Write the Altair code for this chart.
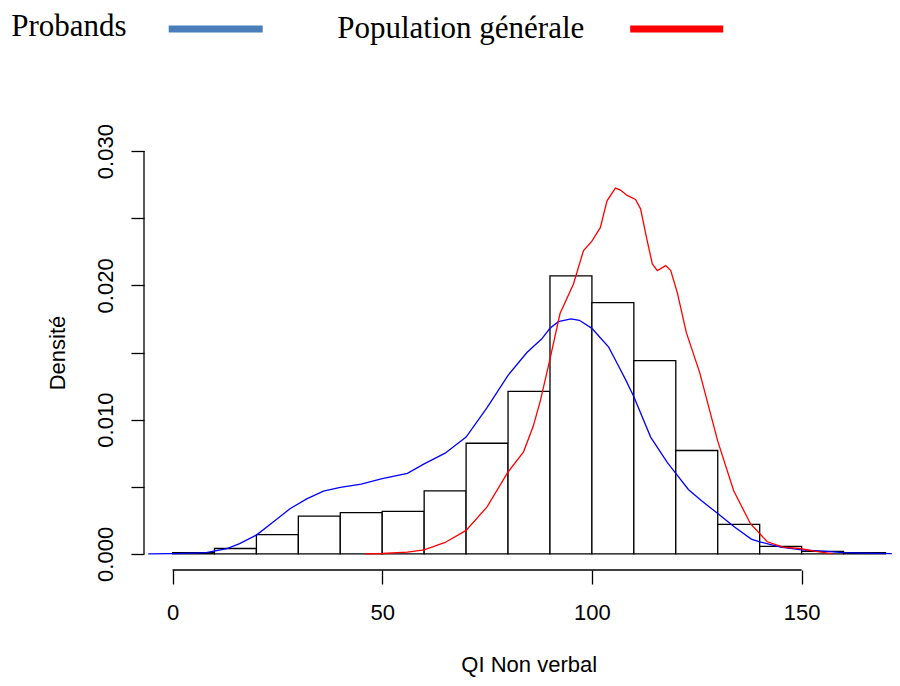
import altair as alt
import pandas as pd

# ---- data ----
bin_starts = [0, 10, 20, 30, 40, 50, 60, 70, 80, 90, 100, 110, 120, 130, 140, 150, 160]
bin_width = 10
bin_density = [0.0001, 0.0004, 0.00143, 0.00281, 0.00307, 0.00316, 0.0047, 0.00824,
               0.01211, 0.0207, 0.01871, 0.0144, 0.0077, 0.0022, 0.00056, 0.00018, 0.0001]

probands_x = [-5.8, 0, 5, 8, 13, 16, 20, 24, 28, 32, 36, 40, 45, 50, 56, 60, 65, 70, 75,
              80, 84.5, 88, 90, 92, 95, 97, 100, 102, 104, 106, 108, 110, 114, 118, 120,
              123, 126, 130, 134, 138, 140, 145, 150, 155, 160, 165, 171.5]
probands_y = [0.0, 0.00002, 0.00006, 0.0001, 0.0004, 0.00076, 0.0014, 0.00237, 0.00336,
              0.0041, 0.00467, 0.00495, 0.0052, 0.0056, 0.006, 0.0067, 0.0075, 0.0087,
              0.0109, 0.0133, 0.015, 0.016, 0.0168, 0.0173, 0.0175, 0.0174, 0.0168, 0.0161,
              0.0154, 0.0142, 0.013, 0.0117, 0.0087, 0.0068, 0.006, 0.0048, 0.004, 0.003,
              0.002, 0.0011, 0.0009, 0.0005, 0.0003, 0.0002, 0.0001, 0.00005, 0.00002]

pop_x = [46, 50, 56, 60, 65, 70, 75, 80, 83.7, 86, 87.7, 90, 92.4, 95.6, 98, 100, 102,
         103.6, 105.6, 106.8, 108.4, 110.4, 111.6, 113.2, 114.4, 115.6, 117.6, 118.8,
         120.4, 122.5, 125.7, 130, 133.8, 137.8, 141.8, 145.6, 149.6, 153, 157.5]
pop_y = [0.0, 0.00003, 0.00013, 0.0003, 0.00085, 0.00175, 0.0035, 0.0061, 0.0076, 0.0095,
         0.0114, 0.0145, 0.0179, 0.0201, 0.0226, 0.0233, 0.0243, 0.0263, 0.02725, 0.0271,
         0.0267, 0.0264, 0.0257, 0.0233, 0.0216, 0.0211, 0.02147, 0.0211, 0.0194, 0.0165,
         0.0135, 0.0084, 0.0047, 0.00225, 0.0009, 0.0005, 0.0004, 0.0002, 0.0]

x_ticks = [0, 50, 100, 150]
y_ticks = [0.0, 0.005, 0.010, 0.015, 0.020, 0.025, 0.030]
legend_labels = ["Probands", "Population générale"]
legend_colors = ["#4A7EBB", "#FF0000"]
x_title = "QI Non verbal"
y_title = "Densité"

# ---- tables ----
hist_df = pd.DataFrame({
    "start": bin_starts,
    "end": [s + bin_width for s in bin_starts],
    "density": bin_density,
    "base": [0.0] * len(bin_starts),
})
prob_df = pd.DataFrame({"x": probands_x, "y": probands_y})
pop_df = pd.DataFrame({"x": pop_x, "y": pop_y})

x_scale = alt.Scale(domain=[-6.8, 171.55], nice=False, zero=False)
y_scale = alt.Scale(domain=[-0.0012, 0.0312], nice=False, zero=False)

FONT = "Liberation Sans"
x_axis = alt.Axis(values=x_ticks, domain=False, grid=False, tickSize=14, tickWidth=1.3,
                  tickColor="black", labelFont=FONT, labelFontSize=22, labelColor="black",
                  labelPadding=18, labelFlush=False, labelOverlap=False,
                  title=x_title, titleFont=FONT, titleFontSize=22, titleFontWeight="normal",
                  titleColor="black", titleX=384.7, titleY=101.5, titleAlign="center",
                  titleBaseline="alphabetic")
y_axis = alt.Axis(values=y_ticks, domain=False, grid=False, tickSize=13, tickWidth=1.3,
                  tickColor="black", labelFont=FONT, labelFontSize=22, labelColor="black",
                  labelAngle=270, labelAlign="center", labelBaseline="alphabetic",
                  labelPadding=19, labelFlush=False, labelOverlap=False,
                  labelExpr="round(datum.value*1000) % 10 == 0 ? format(datum.value, '.3f') : ''",
                  title=y_title, titleFont=FONT, titleFontSize=22, titleFontWeight="normal",
                  titleColor="black", titleAngle=270, titleX=-80, titleY=217.5,
                  titleAlign="center", titleBaseline="alphabetic")

bars = alt.Chart(hist_df).mark_rect(fill="white", stroke="black", strokeWidth=1.3).encode(
    x=alt.X("start:Q", scale=x_scale, axis=x_axis),
    x2=alt.X2("end"),
    y=alt.Y("density:Q", scale=y_scale, axis=y_axis),
    y2=alt.Y2("base"),
)

prob_line = alt.Chart(prob_df).mark_line(color="#0000FF", strokeWidth=1.3).encode(
    x=alt.X("x:Q", scale=x_scale, axis=x_axis),
    y=alt.Y("y:Q", scale=y_scale, axis=y_axis),
)
pop_line = alt.Chart(pop_df).mark_line(color="#FF0000", strokeWidth=1.3).encode(
    x=alt.X("x:Q", scale=x_scale, axis=x_axis),
    y=alt.Y("y:Q", scale=y_scale, axis=y_axis),
)

# axis lines spanning first to last tick (R style)
xline_df = pd.DataFrame({"a": [x_ticks[0]], "b": [x_ticks[-1]], "y": [-0.0012]})
x_line = alt.Chart(xline_df).mark_rule(color="black", strokeWidth=1.3).encode(
    x=alt.X("a:Q", scale=x_scale, axis=x_axis),
    x2=alt.X2("b"),
    y=alt.Y("y:Q", scale=y_scale, axis=y_axis),
)
yline_df = pd.DataFrame({"x": [-6.8], "a": [y_ticks[0]], "b": [y_ticks[-1]]})
y_line = alt.Chart(yline_df).mark_rule(color="black", strokeWidth=1.3).encode(
    x=alt.X("x:Q", scale=x_scale, axis=x_axis),
    y=alt.Y("a:Q", scale=y_scale, axis=y_axis),
    y2=alt.Y2("b"),
)

# manual legend above the plot
leg1_df = pd.DataFrame({"label": [legend_labels[0]]})
leg2_df = pd.DataFrame({"label": [legend_labels[1]]})
leg_text1 = alt.Chart(leg1_df).mark_text(align="left", baseline="alphabetic",
                                          font="Liberation Serif", fontSize=31,
                                          color="black").encode(
    x=alt.value(-132.8), y=alt.value(-98.8), text="label:N")
leg_text2 = alt.Chart(leg2_df).mark_text(align="left", baseline="alphabetic",
                                          font="Liberation Serif", fontSize=31,
                                          color="black").encode(
    x=alt.value(193.2), y=alt.value(-97), text="label:N")
leg_line1 = alt.Chart(leg1_df).mark_rule(color=legend_colors[0], strokeWidth=7).encode(
    x=alt.value(24.7), x2=alt.value(118.7), y=alt.value(-106))
leg_line2 = alt.Chart(leg2_df).mark_rule(color=legend_colors[1], strokeWidth=7).encode(
    x=alt.value(486.2), x2=alt.value(579.2), y=alt.value(-106))

chart = alt.layer(
    bars, prob_line, pop_line, x_line, y_line,
    leg_text1, leg_text2, leg_line1, leg_line2,
).properties(
    width=748, height=435,
    autosize=alt.AutoSizeParams(type="none"),
    padding={"left": 136, "top": 127, "right": 0, "bottom": 107},
).configure_view(strokeWidth=0)

chart.save("out.html", embed_options={"renderer": "svg", "actions": False})
